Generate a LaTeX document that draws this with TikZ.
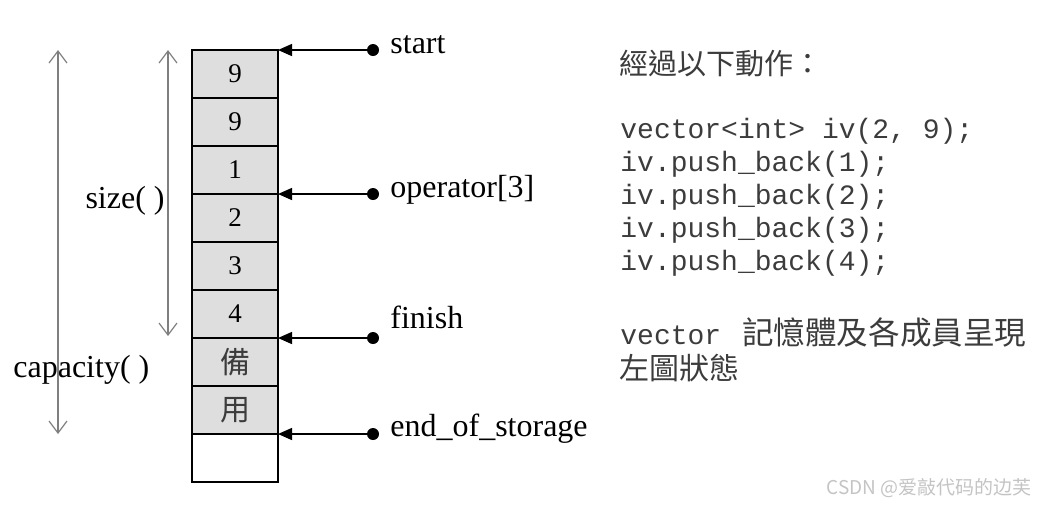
\documentclass[tikz,border=0pt]{standalone}
\usepackage{fontspec}
\setmainfont{Liberation Serif}
\setmonofont{Liberation Mono}
\newfontfamily\cjk{Noto Sans CJK TC}
\newfontfamily\cjksc{Noto Sans CJK SC}
\usepackage{xcolor}
\usepackage{tikz}
\usetikzlibrary{arrows.meta,calc,positioning}

\definecolor{cellgray}{HTML}{DEDEDE}
\definecolor{spangray}{HTML}{7F7F7F}
\definecolor{txtgray}{HTML}{3C3C3C}
\definecolor{markgray}{HTML}{C4C4C4}

\begin{document}
\begin{tikzpicture}[x=0.5pt,y=-0.5pt,font=\fontsize{16}{19}\selectfont,
    >={Triangle[length=7pt,width=6pt]},
    cell/.style={draw,fill=cellgray,line width=0.6pt,minimum width=43pt,minimum height=24pt,
      inner sep=0pt,outer sep=0pt,font=\fontsize{13.5}{15}\selectfont},
    dot/.style={circle,fill,inner sep=0pt,minimum size=6pt},
    ptr/.style={->,line width=0.7pt},
    span/.style={{Straight Barb[length=6pt,width=9pt]}-{Straight Barb[length=6pt,width=9pt]},
      draw=spangray,line width=0.6pt},
    lbl/.style={inner sep=0pt,anchor=base west},
    code/.style={inner sep=0pt,anchor=base west,text=txtgray,font=\fontsize{14}{16}\ttfamily}]
  \useasboundingbox (0,0) rectangle (1037,505);

  % memory cells
  \node[cell] (c1) at (235,74) {9};
  \node[cell] (c2) at (235,122) {9};
  \node[cell] (c3) at (235,170) {1};
  \node[cell] (c4) at (235,218) {2};
  \node[cell] (c5) at (235,266) {3};
  \node[cell] (c6) at (235,314) {4};
  \node[cell,font=\fontsize{15}{17}\cjk,text=txtgray] (c7) at (235,362) {備};
  \node[cell,font=\fontsize{15}{17}\cjk,text=txtgray] (c8) at (235,410) {用};
  \node[cell,fill=white] (c9) at (235,458) {};

  % size() and capacity()
  \coordinate (sztop) at (168,50);
  \coordinate (szbot) at (168,336);
  \coordinate (cptop) at (58,50);
  \coordinate (cpbot) at (58,434);
  \draw[span] (sztop) -- (szbot);
  \draw[span] (cptop) -- (cpbot);
  \node[inner sep=0pt,anchor=base east] (size) at (165,208) {size( )};
  \node[lbl] (cap) at (13,377) {capacity( )};

  % iterators
  \node[dot] (dstart) at (373,50) {};
  \node[dot] (dop) at (373,194) {};
  \node[dot] (dfin) at (373,338) {};
  \node[dot] (deos) at (373,434) {};
  \draw[ptr] (dstart) -- (c1.north east);
  \draw[ptr] (dop) -- (c3.south east);
  \draw[ptr] (dfin) -- (c6.south east);
  \draw[ptr] (deos) -- (c8.south east);
  \node[lbl] (lstart) at (390,53) {start};
  \node[lbl] (lop) at (390,197) {operator[3]};
  \node[lbl] (lfin) at (390,328) {finish};
  \node[lbl] (leos) at (390,436) {end\_of\_storage};

  % right-hand text
  \node[inner sep=0pt,anchor=west,text=txtgray,font=\fontsize{14.5}{17}\cjk] (head) at (619,64) {經過以下動作：};
  \node[code] (code1) at (620,138) {vector<int> iv(2, 9);};
  \node[code] (code2) at (620,171) {iv.push\_back(1);};
  \node[code] (code3) at (620,204) {iv.push\_back(2);};
  \node[code] (code4) at (620,237) {iv.push\_back(3);};
  \node[code] (code5) at (620,270) {iv.push\_back(4);};
  \node[inner sep=0pt,anchor=west,text=txtgray] (note1) at (620,332)
    {{\fontsize{14}{16}\ttfamily vector }\hspace{2pt}{\fontsize{15.8}{19}\cjk 記憶體及各成員呈現}};
  \node[inner sep=0pt,anchor=west,text=txtgray,font=\fontsize{15}{17}\cjk] (note2) at (619,368) {左圖狀態};

  \node[inner sep=0pt,anchor=east,text=markgray,font=\fontsize{9.5}{11}\cjksc] (mark) at (1032,488) {CSDN @爱敲代码的边芙};
\end{tikzpicture}
\end{document}
